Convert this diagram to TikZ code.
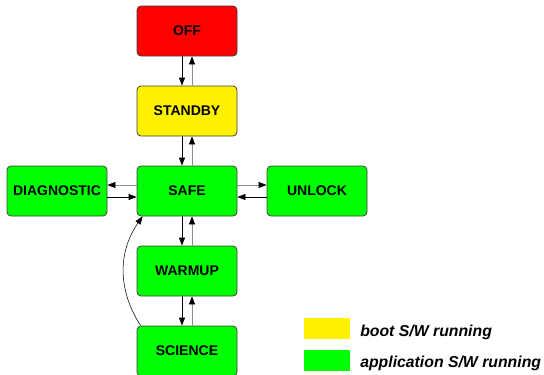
\documentclass[tikz,border=0pt]{standalone}
\usepackage{fontspec}
\setmainfont{Liberation Sans}
\usetikzlibrary{arrows.meta,positioning}

\tikzset{
  mode/.style={draw=black!75, line width=0.6pt, rounded corners=3pt,
    minimum width=75pt, minimum height=37.5pt, inner sep=0pt,
    text depth=-1.2pt,
    font=\fontsize{10.5}{12}\selectfont\bfseries},
  go/.style={-{Triangle[length=6pt,width=4.5pt]}, line width=0.6pt},
  back/.style={draw=black!45, line width=0.6pt,
    -{Triangle[length=6pt,width=4.5pt,color=black]}},
  key/.style={minimum width=34.5pt, minimum height=15.75pt, inner sep=0pt},
  keytext/.style={inner sep=0pt, anchor=base west,
    font=\fontsize{11.85}{14}\selectfont\bfseries\itshape}
}

\begin{document}
\begin{tikzpicture}[x=0.75pt, y=-0.75pt]
  \useasboundingbox (0,0) rectangle (544,375);

  % Define the modes
  \node[mode, fill=red] (off) at (187,31) {OFF};
  \node[mode, fill=yellow] (standby) at (187,111) {STANDBY};
  \node[mode, fill=green] (safe) at (187,191) {SAFE};
  \node[mode, fill=green] (diag) at (57,191) {DIAGNOSTIC};
  \node[mode, fill=green] (unlock) at (317,191) {UNLOCK};
  \node[mode, fill=green] (warmup) at (187,271) {WARMUP};
  \node[mode, fill=green] (science) at (187,351) {SCIENCE};

  % Draw the transitions down the column
  \draw[go] ([xshift=-3.75pt]off.south) -- ([xshift=-3.75pt]standby.north);
  \draw[back] ([xshift=3.75pt]standby.north) -- ([xshift=3.75pt]off.south);
  \draw[go] ([xshift=-3.75pt]standby.south) -- ([xshift=-3.75pt]safe.north);
  \draw[back] ([xshift=3.75pt]safe.north) -- ([xshift=3.75pt]standby.south);
  \draw[go] ([xshift=-3.75pt]safe.south) -- ([xshift=-3.75pt]warmup.north);
  \draw[back] ([xshift=3.75pt]warmup.north) -- ([xshift=3.75pt]safe.south);
  \draw[go] ([xshift=-3.75pt]warmup.south) -- ([xshift=-3.75pt]science.north);
  \draw[back] ([xshift=3.75pt]science.north) -- ([xshift=3.75pt]warmup.south);

  % Draw the transitions to the side modes
  \draw[back] ([yshift=4.5pt]safe.west) -- ([yshift=4.5pt]diag.east);
  \draw[go] ([yshift=-4.5pt]diag.east) -- ([yshift=-4.5pt]safe.west);
  \draw[back] ([yshift=4.5pt]safe.east) -- ([yshift=4.5pt]unlock.west);
  \draw[go] ([yshift=-4.5pt]unlock.west) -- ([yshift=-4.5pt]safe.east);

  % Draw the return from science
  \draw[go, line width=0.4pt] ([xshift=3pt]science.north west)
    to[bend left=34] ([xshift=4.5pt]safe.south west);

  % Draw the legend
  \node[key, fill=yellow] (bootkey) at (327,328.5) {};
  \node[keytext] (bootlabel) at (360,336) {boot S/W running};
  \node[key, fill=green] (appkey) at (327,360.5) {};
  \node[keytext] (applabel) at (360,367.5) {application S/W running};
\end{tikzpicture}
\end{document}
